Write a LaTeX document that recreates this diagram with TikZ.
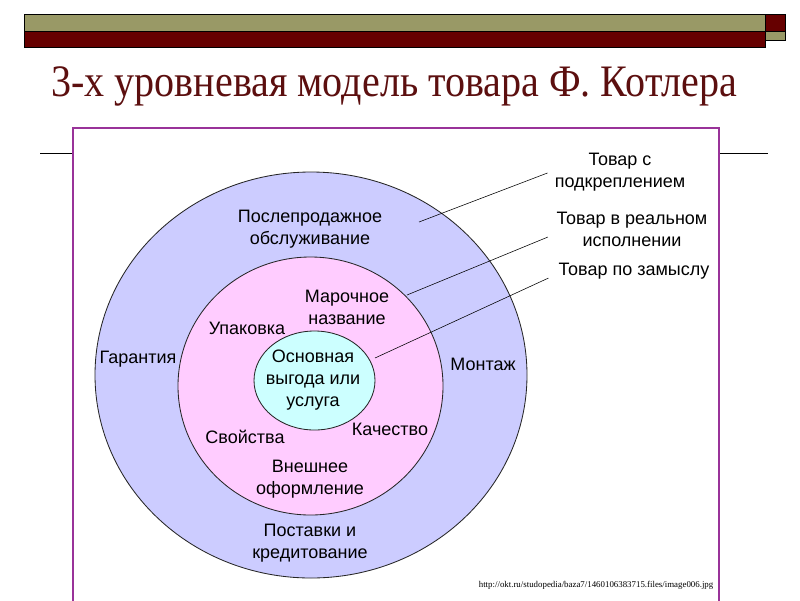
\documentclass[tikz,border=0pt]{standalone}
\usepackage{fontspec}
\setmainfont{Liberation Serif}
\setsansfont{Liberation Sans}
\definecolor{barolive}{HTML}{999966}
\definecolor{barred}{HTML}{660000}
\definecolor{titlered}{HTML}{5C0F0F}
\definecolor{framepurple}{HTML}{993399}
\definecolor{ringouter}{HTML}{CCCCFF}
\definecolor{ringinner}{HTML}{FFCCFF}
\definecolor{ringcore}{HTML}{CCFFFF}
\begin{document}
\begin{tikzpicture}[x=0.025cm, y=-0.025cm,
    every node/.style={font=\sffamily\fontsize{12.8}{15.5}\selectfont, align=center, inner sep=1pt},
    ring/.style={draw=black!85, line width=0.6pt}]
        % Kotler's three-level product model on a slide
        \useasboundingbox (0,0) rectangle (800,600);
        \fill[white] (0,0) rectangle (800,600);
        \draw[fill=barolive] (24,14) rectangle (765,31);
        \draw[fill=barred] (24,31) rectangle (765,47);
        \draw[fill=barred] (765,14) rectangle (785,31);
        \draw[fill=barolive] (765,31) rectangle (785,40);
        \node[font=\rmfamily\fontsize{32}{36}\selectfont, text=titlered, anchor=base west, xscale=0.89] (title) at (50,96) {3-х уровневая модель товара Ф. Котлера};
        \draw (40,153) -- (73,153);
        \draw (720,153) -- (768,153);
        \draw[framepurple, line width=1.2pt] (73,128) rectangle (719,604);
        \coordinate (c) at (311,375);
        \draw[ring, fill=ringouter] (c) ellipse [x radius=216, y radius=203];
        \draw[ring, fill=ringinner] (310.5,386) ellipse [x radius=132.5, y radius=129];
        \draw[ring, fill=ringcore] (314.5,380.5) ellipse [x radius=60.5, y radius=49.5];
        \coordinate (p1) at (419,222);
        \coordinate (p2) at (407,295);
        \coordinate (p3) at (375,358);
        \node (lev1) at (620,172) {Товар с\\подкреплением};
        \node (lev2) at (632,229) {Товар в реальном\\исполнении};
        \node (lev3) at (634,271) {Товар по замыслу};
        \draw (p1) -- ([xshift=-4pt, yshift=-0.7pt]lev1.west);
        \draw (p2) -- ([xshift=-5pt, yshift=-5.7pt]lev2.west);
        \draw (p3) -- ([xshift=-6pt, yshift=-5pt]lev3.west);
        \node (service) at (310,229) {Послепродажное\\обслуживание};
        \node (brand) at (347,307) {Марочное\\название};
        \node (pack) at (247,328) {Упаковка};
        \node (warranty) at (138,359) {Гарантия};
        \node (core) at (313,380) {Основная\\выгода или\\услуга};
        \node (mount) at (483,364) {Монтаж};
        \node (props) at (245,437) {Свойства};
        \node (quality) at (390,429) {Качество};
        \node (design) at (310,479) {Внешнее\\оформление};
        \node (credit) at (310,543) {Поставки и\\кредитование};
        \node[font=\rmfamily\fontsize{6.3}{7}\selectfont, anchor=base east] (src) at (715,587) {http://okt.ru/studopedia/baza7/1460106383715.files/image006.jpg};
    \end{tikzpicture}
\end{document}
